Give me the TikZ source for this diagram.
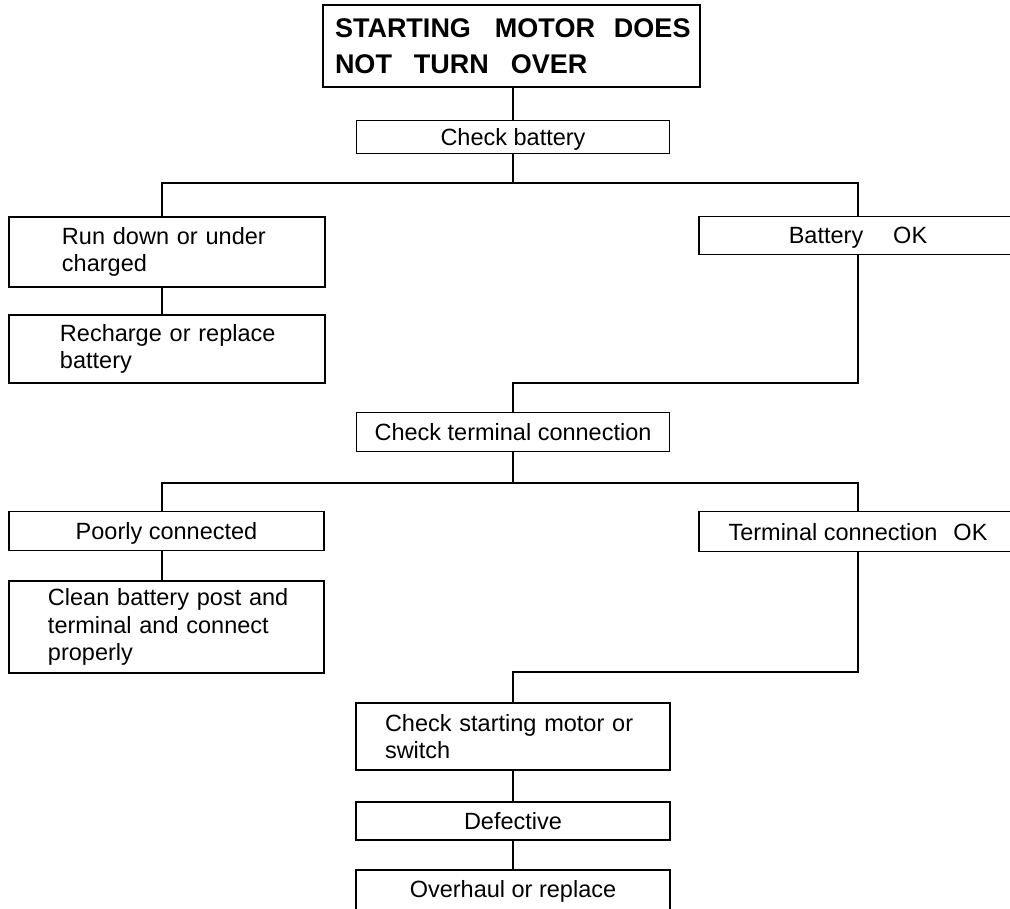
\documentclass[tikz,border=0pt]{standalone}
\usepackage{fontspec}
\setmainfont{Liberation Sans}
\newcommand\padl[1]{\hspace*{#1}}
\begin{document}
\begin{tikzpicture}[x=1pt,y=-1pt,
  box/.style={draw, line width=1.3pt, inner sep=0pt, font=\fontsize{23.5}{27.5}\selectfont},
  sbox/.style={box, text height=17pt, text depth=0pt},
  lbox/.style={box, align=left, text width=#1},
  ln/.style={line width=1.3pt}]
\useasboundingbox (0,0) rectangle (1010,909);
\clip (0,0) rectangle (1010,909);
% nodes
\node[box, minimum width=377pt, minimum height=82pt, align=left, text width=377pt,
      font=\fontsize{27}{36}\selectfont\bfseries] (title) at (511.5,46)
  {\padl{12pt}STARTING\hspace{24pt}MOTOR\hspace{19pt}DOES\\\padl{12pt}NOT\hspace{22pt}TURN\hspace{22pt}OVER};
\node[sbox, minimum width=313pt, minimum height=33pt] (chkbat) at (513,137) {Check battery};
\node[lbox=316pt, minimum height=70pt] (rundown) at (167,252)
  {\padl{53pt}Run down or under\\\padl{53pt}charged};
\node[lbox=316pt, minimum height=68pt] (recharge) at (167,349)
  {\padl{51pt}Recharge or replace\\\padl{51pt}battery};
\node[sbox, minimum width=318pt, minimum height=38pt] (batok) at (858,235.5) {Battery\hspace{30pt}OK};
\node[sbox, minimum width=313pt, minimum height=39pt] (chkterm) at (513,432) {Check terminal connection};
\node[sbox, minimum width=315pt, minimum height=39pt] (poorly) at (166.5,531) {Poorly connected};
\node[lbox=315pt, minimum height=92pt] (clean) at (166.5,627)
  {\padl{39pt}Clean battery post and\\\padl{39pt}terminal and connect\\\padl{39pt}properly};
\node[sbox, minimum width=318pt, minimum height=40pt] (termok) at (858,531.5) {Terminal connection\hspace{16pt}OK};
\node[lbox=314pt, minimum height=67pt] (chkstart) at (513,736.5)
  {\padl{29pt}Check starting motor or\\\padl{29pt}switch};
\node[sbox, minimum width=314pt, minimum height=38pt] (defective) at (513,821) {Defective};
\node[box, minimum width=314pt, minimum height=60pt, text depth=22pt] (overhaul) at (513,900) {Overhaul or replace};
% junctions
\coordinate (j1) at (513,183);
\coordinate (j2) at (858,383);
\coordinate (j3) at (513,483);
\coordinate (j4) at (858,672);
% connectors
\draw[ln] (title.south -| chkbat.north) -- (chkbat.north);
\draw[ln] (chkbat.south) -- (j1);
\draw[ln] ([xshift=-5pt]rundown.north) |- (j1) -| (batok.north);
\draw[ln] ([xshift=-5pt]rundown.south) -- ([xshift=-5pt]recharge.north);
\draw[ln] (batok.south) -- (j2) -| (chkterm.north);
\draw[ln] (chkterm.south) -- (j3);
\draw[ln] ([xshift=-4.5pt]poorly.north) |- (j3) -| (termok.north);
\draw[ln] ([xshift=-4.5pt]poorly.south) -- ([xshift=-4.5pt]clean.north);
\draw[ln] (termok.south) -- (j4) -| (chkstart.north);
\draw[ln] (chkstart.south) -- (defective.north);
\draw[ln] (defective.south) -- (overhaul.north);
\end{tikzpicture}
\end{document}
